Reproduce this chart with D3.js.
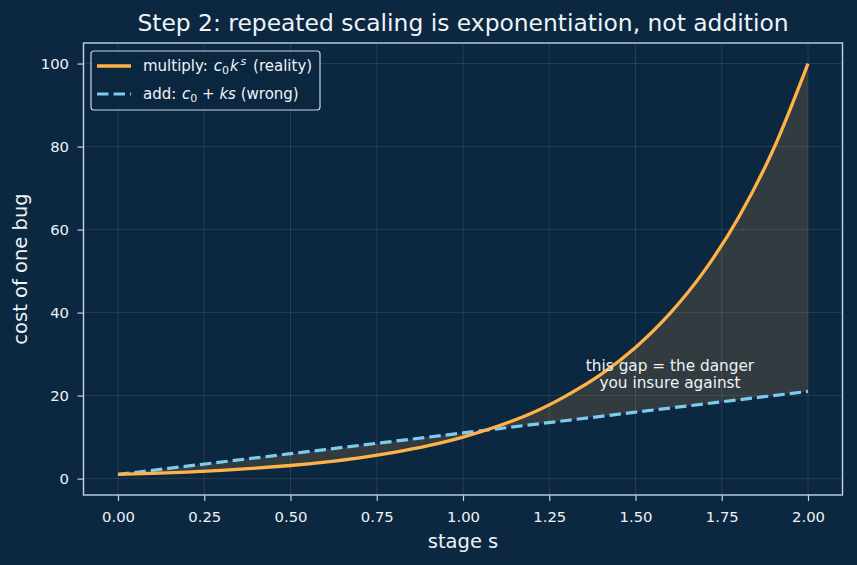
<!DOCTYPE html>
<html>
<head>
<meta charset="utf-8">
<script src="https://cdn.jsdelivr.net/npm/d3@7"></script>
<style>
  body { margin: 0; background: #0c2740; }
  text { font-family: "DejaVu Sans", sans-serif; }
</style>
</head>
<body>
<svg id="chartSvg" width="857" height="565"></svg>
<script>
// stage values and the two cost curves
const stages = [0, 0.1, 0.2, 0.3, 0.4, 0.5, 0.6, 0.7, 0.8, 0.9, 1.0,
                1.1, 1.2, 1.3, 1.4, 1.5, 1.6, 1.7, 1.8, 1.9, 2.0];
const multiplyCost = [1, 1.26, 1.58, 2.0, 2.51, 3.16, 3.98, 5.01, 6.31, 7.94, 10,
                      12.6, 15.8, 20.0, 25.1, 31.6, 39.8, 50.1, 63.1, 79.4, 100];
const addCost = [1, 2, 3, 4, 5, 6, 7, 8, 9, 10, 11,
                 12, 13, 14, 15, 16, 17, 18, 19, 20, 21];
const xTicks = [0, 0.25, 0.5, 0.75, 1.0, 1.25, 1.5, 1.75, 2.0];
const yTicks = [0, 20, 40, 60, 80, 100];

const svg = d3.select("#chartSvg");
const plotLeft = 83.5, plotRight = 842.5, plotTop = 43, plotBottom = 495;

const bg = "#0c2740";
const orange = "#ffb347";
const blue = "#7ecbf2";
const spine = "#c3d4e6";
const textColor = "#eef3f8";

svg.append("rect").attr("width", 857).attr("height", 565).attr("fill", bg);

let xScale = d3.scaleLinear().domain([-0.1, 2.1]).range([plotLeft, plotRight]);
let yScale = d3.scaleLinear().domain([-3.95, 104.95]).range([plotBottom, plotTop]);

let rows = stages.map(function (s, i) {
  return { s: s, mult: multiplyCost[i], add: addCost[i] };
});

// grid
let grid = svg.append("g");
grid.selectAll(".vgrid")
  .data(xTicks)
  .enter().append("line")
  .attr("x1", function (d) { return xScale(d); })
  .attr("x2", function (d) { return xScale(d); })
  .attr("y1", plotTop).attr("y2", plotBottom)
  .attr("stroke", "#ffffff").attr("stroke-opacity", 0.13).attr("stroke-width", 0.8);
grid.selectAll(".hgrid")
  .data(yTicks)
  .enter().append("line")
  .attr("y1", function (d) { return yScale(d); })
  .attr("y2", function (d) { return yScale(d); })
  .attr("x1", plotLeft).attr("x2", plotRight)
  .attr("stroke", "#ffffff").attr("stroke-opacity", 0.13).attr("stroke-width", 0.8);

// gap between the two curves
let area = d3.area()
  .x(function (d) { return xScale(d.s); })
  .y0(function (d) { return yScale(d.add); })
  .y1(function (d) { return yScale(d.mult); })
  .curve(d3.curveMonotoneX);
svg.append("path")
  .datum(rows)
  .attr("d", area)
  .attr("fill", "#f4a742")
  .attr("fill-opacity", 0.16);

let multLine = d3.line()
  .x(function (d) { return xScale(d.s); })
  .y(function (d) { return yScale(d.mult); })
  .curve(d3.curveMonotoneX);
let addLine = d3.line()
  .x(function (d) { return xScale(d.s); })
  .y(function (d) { return yScale(d.add); });

svg.append("path")
  .datum(rows)
  .attr("d", addLine)
  .attr("fill", "none")
  .attr("stroke", blue)
  .attr("stroke-width", 3.2)
  .attr("stroke-dasharray", "11.5,5");

svg.append("path")
  .datum(rows)
  .attr("d", multLine)
  .attr("fill", "none")
  .attr("stroke", orange)
  .attr("stroke-width", 3.3);

// axes
let xAxis = svg.append("g")
  .attr("transform", "translate(0," + plotBottom + ")")
  .call(d3.axisBottom(xScale).tickValues(xTicks).tickFormat(d3.format(".2f")).tickSize(6).tickPadding(10));
let yAxis = svg.append("g")
  .attr("transform", "translate(" + plotLeft + ",0)")
  .call(d3.axisLeft(yScale).tickValues(yTicks).tickSize(6).tickPadding(8.5));
[xAxis, yAxis].forEach(function (a) {
  a.select(".domain").remove();
  a.selectAll("line").attr("stroke", spine).attr("stroke-width", 1.2);
  a.selectAll("text").attr("fill", textColor).style("font-size", "14.8px")
    .style("font-family", "DejaVu Sans, sans-serif");
});

// frame
svg.append("rect")
  .attr("x", plotLeft).attr("y", plotTop)
  .attr("width", plotRight - plotLeft).attr("height", plotBottom - plotTop)
  .attr("fill", "none").attr("stroke", spine).attr("stroke-width", 1.4);

// titles
svg.append("text")
  .attr("x", (plotLeft + plotRight) / 2).attr("y", 31)
  .attr("text-anchor", "middle")
  .attr("fill", textColor)
  .style("font-size", "23.4px")
  .text("Step 2: repeated scaling is exponentiation, not addition");

svg.append("text")
  .attr("x", (plotLeft + plotRight) / 2).attr("y", 548)
  .attr("text-anchor", "middle")
  .attr("fill", textColor)
  .style("font-size", "19.5px")
  .text("stage s");

svg.append("text")
  .attr("transform", "translate(27," + (plotTop + plotBottom) / 2 + ") rotate(-90)")
  .attr("text-anchor", "middle")
  .attr("fill", textColor)
  .style("font-size", "19.5px")
  .text("cost of one bug");

// annotation
let note = svg.append("text")
  .attr("text-anchor", "middle")
  .attr("fill", textColor)
  .style("font-size", "15.3px");
note.append("tspan").attr("x", 670).attr("y", 371).text("this gap = the danger");
note.append("tspan").attr("x", 670).attr("y", 388).text("you insure against");

// legend
let legend = svg.append("g");
legend.append("rect")
  .attr("x", 91).attr("y", 51).attr("width", 229).attr("height", 59)
  .attr("rx", 3)
  .attr("fill", bg).attr("fill-opacity", 0.85)
  .attr("stroke", spine).attr("stroke-width", 1.2);
legend.append("line")
  .attr("x1", 97).attr("x2", 131).attr("y1", 66).attr("y2", 66)
  .attr("stroke", orange).attr("stroke-width", 3.3);
legend.append("line")
  .attr("x1", 97).attr("x2", 131).attr("y1", 94).attr("y2", 94)
  .attr("stroke", blue).attr("stroke-width", 3.2).attr("stroke-dasharray", "11.5,5");

let l1 = legend.append("text").attr("x", 143).attr("y", 71)
  .attr("fill", textColor).style("font-size", "15px");
l1.append("tspan").text("multiply: ");
l1.append("tspan").attr("dx", 1).style("font-style", "italic").text("c");
l1.append("tspan").attr("dy", 3).style("font-size", "11px").text("0");
l1.append("tspan").attr("dy", -3).attr("dx", 1).style("font-style", "italic").text("k");
l1.append("tspan").attr("dy", -6).attr("dx", 2).style("font-size", "11px").style("font-style", "italic").text("s");
l1.append("tspan").attr("dy", 6).attr("dx", 2).text(" (reality)");

let l2 = legend.append("text").attr("x", 143).attr("y", 99)
  .attr("fill", textColor).style("font-size", "15px");
l2.append("tspan").text("add: ");
l2.append("tspan").attr("dx", 1).style("font-style", "italic").text("c");
l2.append("tspan").attr("dy", 3).style("font-size", "11px").text("0");
l2.append("tspan").attr("dy", -3).text(" + ");
l2.append("tspan").style("font-style", "italic").text("ks");
l2.append("tspan").text(" (wrong)");
</script>
</body>
</html>
